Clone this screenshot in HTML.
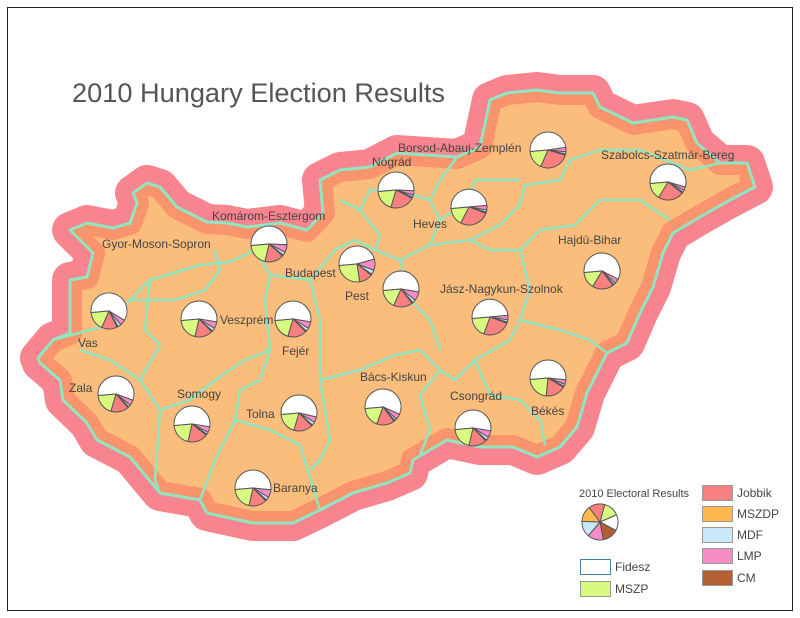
<!DOCTYPE html>
<html><head><meta charset="utf-8"><style>
body{margin:0;background:#fff;}
svg{display:block;font-family:"Liberation Sans",sans-serif;}
</style></head><body>
<svg id="chart" width="800" height="618" viewBox="0 0 800 618">
<rect x="7.5" y="7.5" width="785" height="603" fill="#fff" stroke="#222" stroke-width="1"/>
<text x="72" y="102" font-size="27" fill="#555" textLength="373" lengthAdjust="spacingAndGlyphs">2010 Hungary Election Results</text>
<defs><clipPath id="hu"><polygon id="hupoly" points=""/></clipPath></defs>
<g id="map"></g>
<g id="pies"></g>
<g id="labels"></g>
<g id="legend">
<text x="579" y="497" font-size="11" fill="#444">2010 Electoral Results</text>
</g>
</svg>
<script>
const parties=['Fidesz','LMP','MDF','CM','MSZDP','Jobbik','MSZP'];
const colors=['#ffffff','#f58cc6','#c9e9fb','#b45f33','#fdb94f','#f98080','#d8fb7f'];
const counties=['Borsod-Abauj-Zemplén','Szabolcs-Szatmár-Bereg','Nógrád','Heves','Komárom-Esztergom','Budapest','Pest','Vas','Veszprém','Fejér','Zala','Somogy','Tolna','Baranya','Bács-Kiskun','Jász-Nagykun-Szolnok','Hajdú-Bihar','Békés','Csongrád'];
const fidesz=[49,56,52,50,52,47,54,60,54,54,57,54,55,53,58,50,59,53,54];
const lmp=[4,3,4,4,7,10,8,5,6,6,5,5,5,7,5,4,4,4,6];
const mdf=[2,2,2,2,3,4,3,3,3,3,2,2,3,3,2,2,2,2,3];
const cm=[1,1,1,1,1,1,1,1,1,1,1,1,1,1,1,1,1,1,1];
const mszdp=[0,0,0,0,0,0,0,0,0,0,0,0,0,0,0,0,0,0,0];
const jobbik=[27,23,22,27,17,12,17,14,16,17,16,18,17,16,16,25,19,18,16];
const mszp=[17,15,19,16,20,26,17,17,20,19,19,20,19,20,18,18,15,22,20];
const pieCenters=[[548,150],[668,182],[396,190],[469,207],[269,244],[357,264],[401,289],[109,311],[199,319],[293,319],[116,394],[192,424],[299,413],[253,488],[383,407],[490,317],[602,271],[548,378],[473,428]];
const labelPos=[[398,152],[601,159],[372,166],[413,228],[212,220],[102,248],[285,277],[345,300],[558,244],[440,293],[220,324],[282,355],[78,347],[69,392],[177,398],[246,418],[360,381],[450,400],[531,415],[273,492]];
const labelNames=['Borsod-Abauj-Zemplén','Szabolcs-Szatmár-Bereg','Nógrád','Heves','Komárom-Esztergom','Gyor-Moson-Sopron','Budapest','Pest','Hajdú-Bihar','Jász-Nagykun-Szolnok','Veszprém','Fejér','Vas','Zala','Somogy','Tolna','Bács-Kiskun','Csongrád','Békés','Baranya'];
const outline=[[38,358],[53,340],[70,333],[70,280],[87,277],[93,253],[70,230],[87,223],[113,228],[130,223],[137,203],[133,193],[147,183],[160,187],[177,207],[207,222],[227,223],[247,227],[280,223],[307,230],[323,213],[320,180],[340,170],[370,167],[397,153],[457,157],[480,147],[490,100],[507,93],[537,90],[560,93],[593,93],[600,107],[633,123],[673,117],[687,120],[697,143],[720,163],[747,163],[755,187],[730,200],[700,217],[673,233],[663,253],[653,287],[640,313],[627,343],[607,353],[587,393],[577,427],[560,447],[537,457],[513,447],[480,447],[447,440],[413,460],[410,473],[387,483],[353,493],[320,510],[293,523],[253,523],[207,513],[200,500],[160,493],[130,457],[97,440],[87,423],[63,400],[60,380],[40,363]];
const borders=[
[[53,340],[90,330],[110,325],[130,300],[150,280],[200,265],[230,262],[255,250],[260,230]],
[[150,280],[145,330],[160,345],[140,380],[110,360],[80,350]],
[[130,300],[175,300],[205,290],[220,270],[215,250]],
[[140,380],[160,410],[190,400],[215,380],[245,360],[270,350]],
[[160,410],[155,480],[160,493]],
[[255,250],[270,275],[265,300],[270,350],[260,380],[240,390],[235,420],[215,460],[200,500]],
[[235,420],[270,430],[300,445],[320,510]],
[[270,275],[310,280],[335,250],[355,240],[375,250],[380,235],[360,210],[340,200]],
[[310,280],[320,320],[320,380],[330,440],[320,460],[310,470]],
[[320,380],[360,370],[395,355],[420,350],[440,370],[420,395],[430,430],[420,455]],
[[375,250],[400,260],[430,245],[440,220],[430,200],[440,180],[457,157]],
[[400,260],[410,300],[430,320],[440,350]],
[[430,245],[470,240],[500,225],[520,205],[525,185],[560,180],[570,160],[600,150],[640,150],[690,170],[720,163]],
[[470,240],[490,250],[520,250],[540,230],[575,225],[600,200],[640,200],[670,220]],
[[520,250],[530,290],[520,320],[510,340],[475,360],[455,380],[440,370]],
[[520,320],[560,330],[590,340],[607,353]],
[[475,360],[490,395],[520,400],[540,420],[545,445]],
[[440,220],[470,200],[475,180],[520,180]],
[[360,210],[370,190],[397,190],[430,200]]
];
const NS='http://www.w3.org/2000/svg';
const pts=outline.map(p=>p.join(',')).join(' ');
document.getElementById('hupoly').setAttribute('points',pts);
const map=document.getElementById('map');
function mk(tag,attrs,parent){const e=document.createElementNS(NS,tag);for(const k in attrs)e.setAttribute(k,attrs[k]);parent.appendChild(e);return e;}
const halo=mk('polygon',{points:pts,fill:'#f8848f',stroke:'#f8848f','stroke-width':36,'stroke-linejoin':'round'},map);


const land=mk('polygon',{points:pts,fill:'#fbbd7b'},map);


const inner=mk('polygon',{points:pts,fill:'none',stroke:'#f9946c','stroke-width':24,'stroke-linejoin':'round','clip-path':'url(#hu)'},map);


borders.forEach(b=>{
 const l=mk('polyline',{points:b.map(p=>p.join(',')).join(' '),fill:'none',stroke:'#8fe6c0','stroke-width':2.5,'stroke-linejoin':'round'},map);
 
 
});
const edge=mk('polygon',{points:pts,fill:'none',stroke:'#8fe6c0','stroke-width':3,'stroke-linejoin':'round'},map);


function pie(parent,cx,cy,r,vals,start){
 const tot=vals.reduce((a,b)=>a+b,0);let a=start;
 vals.forEach((v,i)=>{
  if(v<=0)return;
  const a2=a+v/tot*360;
  const t1=a*Math.PI/180,t2=a2*Math.PI/180;
  const x1=cx+r*Math.sin(t1),y1=cy-r*Math.cos(t1),x2=cx+r*Math.sin(t2),y2=cy-r*Math.cos(t2);
  const large=(a2-a)>180?1:0;
  const p=mk('path',{d:`M${cx},${cy}L${x1.toFixed(2)},${y1.toFixed(2)}A${r},${r} 0 ${large} 1 ${x2.toFixed(2)},${y2.toFixed(2)}Z`,fill:colors[i],stroke:'#555','stroke-width':1},parent);
  
  
  a=a2;
 });
}
const pg=document.getElementById('pies');
counties.forEach((c,k)=>{
 const g=mk('g',{},pg);
 
 
 const [cx,cy]=pieCenters[k];
 pie(g,cx,cy,18,[fidesz[k],lmp[k],mdf[k],cm[k],mszdp[k],jobbik[k],mszp[k]],265);
});
const lg=document.getElementById('labels');
labelNames.forEach((n,k)=>{
 const t=mk('text',{x:labelPos[k][0],y:labelPos[k][1],'font-size':12,fill:'#444'},lg);
 t.textContent=n;
 
 
});
const leg=document.getElementById('legend');
const lp=mk('g',{},leg);


(function(){
 const order=[6,0,3,1,2,4,5];const r=18,cx=600,cy=522;let a=15;
 order.forEach(i=>{const a2=a+360/7;const t1=a*Math.PI/180,t2=a2*Math.PI/180;
  const p=mk('path',{d:`M${cx},${cy}L${(cx+r*Math.sin(t1)).toFixed(2)},${(cy-r*Math.cos(t1)).toFixed(2)}A${r},${r} 0 0 1 ${(cx+r*Math.sin(t2)).toFixed(2)},${(cy-r*Math.cos(t2)).toFixed(2)}Z`,fill:colors[i],stroke:'#555','stroke-width':1},lp);
  
  
  a=a2;});
})();
const legItems=[['Fidesz',0,580,559],['MSZP',6,580,581],['Jobbik',5,702,485],['MSZDP',4,702,506],['MDF',2,702,527],['LMP',1,702,548],['CM',3,702,570]];
legItems.forEach(([n,ci,x,y])=>{
 const g=mk('g',{},leg);
 
 
 mk('rect',{x:x+0.5,y:y+0.5,width:30,height:15,fill:colors[ci],stroke:ci===0?'#4a7f9a':'#999','stroke-width':1},g);
 const t=mk('text',{x:x+35,y:y+12,'font-size':12,fill:'#444'},g);
 t.textContent=n;
});
</script>
</body></html>
